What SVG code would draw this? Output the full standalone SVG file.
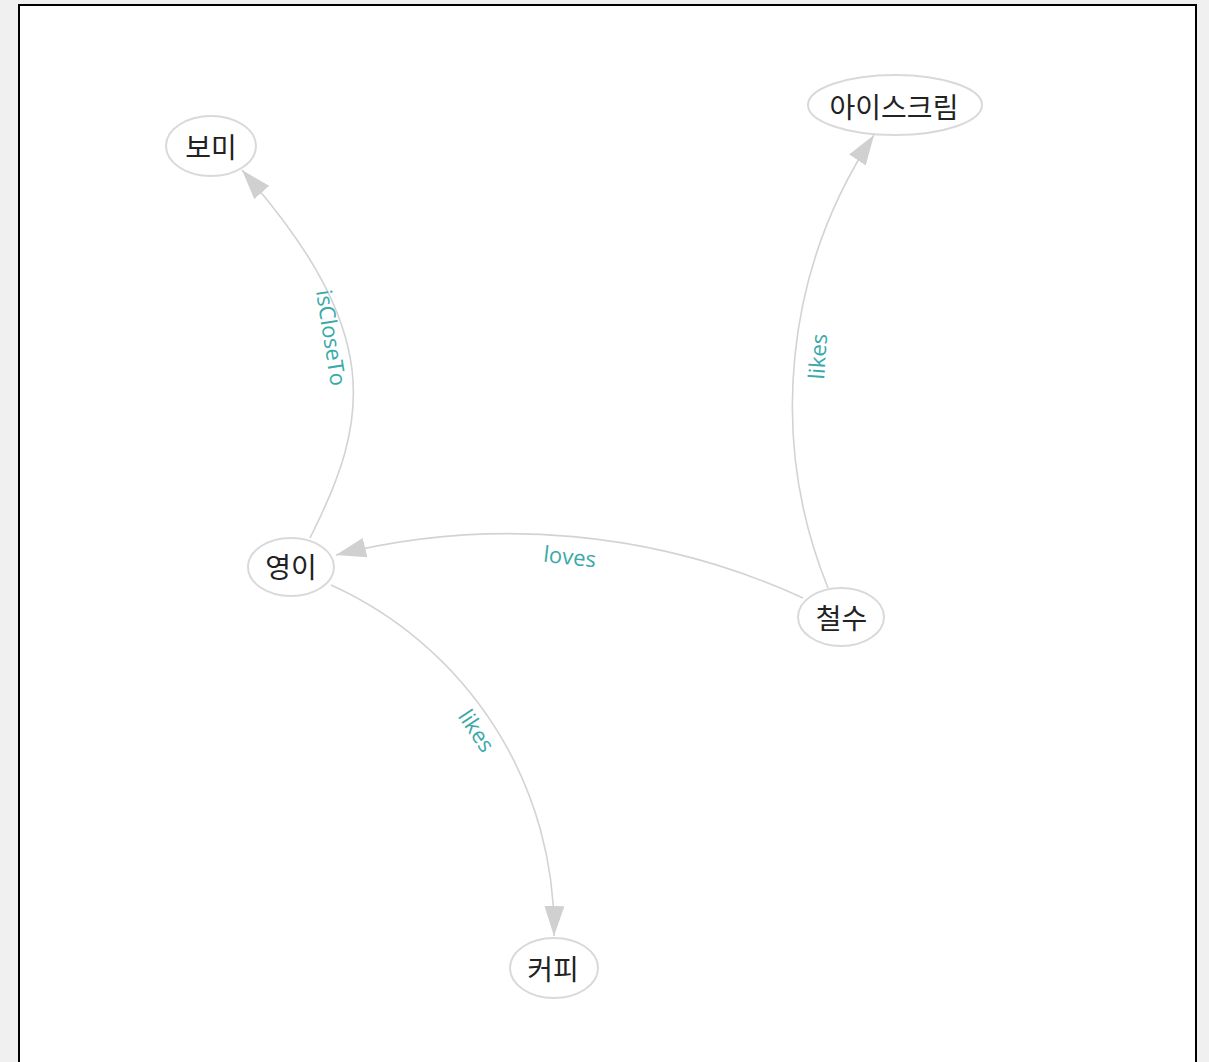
<svg xmlns="http://www.w3.org/2000/svg" width="1209" height="1062" viewBox="0 0 1209 1062">
  <style>
    .node ellipse { fill: #ffffff; stroke: #d9d9d9; stroke-width: 2; }
    .node text { font-family: "Noto Sans CJK KR", "Noto Sans", sans-serif; font-size: 28px; fill: #222222; text-anchor: middle; }
    .edge { fill: none; stroke: #d3d3d3; stroke-width: 1.6; marker-end: url(#arrow); }
    .label { font-family: "Open Sans", "Noto Sans", sans-serif; font-size: 22px; fill: #3aa9a9; text-anchor: middle; }
  </style>
  <defs>
    <marker id="arrow" viewBox="0 -10 30 20" refX="30" refY="0" markerWidth="30" markerHeight="20" markerUnits="userSpaceOnUse" orient="auto">
      <path d="M0,-10 L30,0 L0,10 Z" fill="#d0d0d0"/>
    </marker>
  </defs>
  <rect x="0" y="0" width="1209" height="1062" fill="#f0f0f0"/>
  <rect x="19" y="5" width="1177" height="1080" fill="#ffffff" stroke="#000000" stroke-width="2"/>

  <g id="connectors">
    <path id="e-youngi-bomi" class="edge" d="M310,538 C370.3,418.7 384.5,331.9 242,170"/>
    <path id="e-cheolsu-icecream" class="edge" d="M828,588 A488,488 0 0,1 874,135"/>
    <path id="e-cheolsu-youngi" class="edge" d="M803,598 A707,707 0 0,0 336,555"/>
    <path id="e-youngi-coffee" class="edge" d="M331,585 A379,379 0 0,1 554,936"/>
    <text class="label" transform="translate(323.5,339) rotate(81)">isCloseTo</text>
    <text class="label" transform="translate(825.6,357) rotate(-86)">likes</text>
    <text class="label" transform="translate(569,564.5) rotate(6.5)">loves</text>
    <text class="label" transform="translate(470,735) rotate(56)">likes</text>
  </g>

  <g id="node-bomi" class="node">
    <ellipse cx="211" cy="146" rx="45" ry="30"/>
    <text x="211" y="157.5">보미</text>
  </g>
  <g id="node-icecream" class="node">
    <ellipse cx="895" cy="105" rx="87" ry="30"/>
    <text x="894" y="117.5">아이스크림</text>
  </g>
  <g id="node-youngi" class="node">
    <ellipse cx="291" cy="567" rx="43" ry="29"/>
    <text x="291" y="577.5">영이</text>
  </g>
  <g id="node-cheolsu" class="node">
    <ellipse cx="841" cy="617" rx="43" ry="29"/>
    <text x="841.5" y="628.5">철수</text>
  </g>
  <g id="node-coffee" class="node">
    <ellipse cx="554" cy="968" rx="44" ry="30"/>
    <text x="553" y="979.5">커피</text>
  </g>
</svg>
